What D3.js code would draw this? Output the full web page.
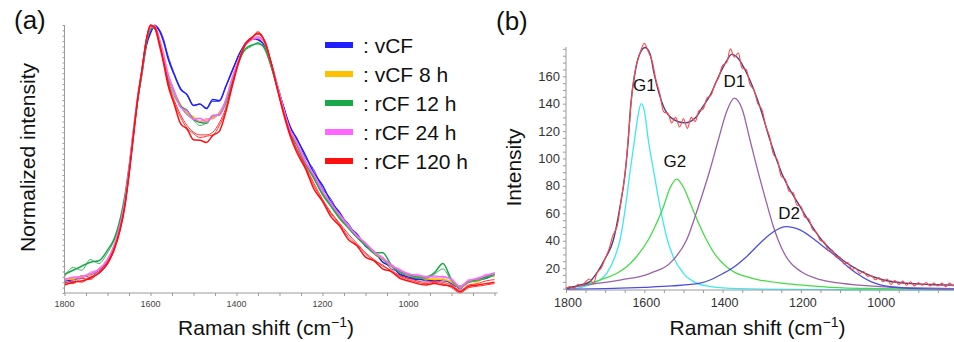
<!DOCTYPE html>
<html><head><meta charset="utf-8">
<script src="https://cdn.jsdelivr.net/npm/d3@7"></script>
<style>
body{margin:0;background:#fff;}
svg{display:block;font-family:Arial,"Liberation Sans",sans-serif;}
</style></head>
<body>
<svg id="c" width="954" height="342"></svg>
<script>
// ---------- Panel (a) data: normalized Raman spectra ----------
const shiftA = [1800,1780,1760,1740,1720,1700,1685,1670,1660,1650,1640,1630,1620,1610,1600,1590,1580,1570,1560,1545,1530,1515,1500,1485,1470,1455,1440,1425,1410,1395,1380,1365,1350,1335,1320,1305,1290,1275,1260,1240,1220,1200,1180,1160,1140,1120,1100,1080,1060,1040,1020,1000,980,960,940,920,900,880,860,840,820,800];

const vCF_a = [0.045,0.050,0.060,0.068,0.085,0.120,0.170,0.250,0.330,0.450,
 0.590,0.720,0.820,0.920,0.970,0.995,0.980,0.940,0.880,0.815,
 0.760,0.740,0.700,0.705,0.688,0.722,0.718,0.770,0.830,0.885,
 0.930,0.950,0.945,0.925,0.860,0.775,0.690,0.620,0.575,0.515,
 0.448,0.402,0.340,0.300,0.250,0.220,0.175,0.155,0.115,0.100,
 0.070,0.060,0.050,0.050,0.045,0.050,0.035,0.020,0.040,0.050,
 0.055,0.070];
const vCF_b = [0.055,0.040,0.065,0.058,0.090,0.118,0.175,0.255,0.335,0.455,
 0.595,0.725,0.825,0.925,0.975,1.000,0.985,0.950,0.890,0.820,
 0.765,0.740,0.700,0.705,0.690,0.715,0.715,0.770,0.825,0.890,
 0.925,0.945,0.950,0.915,0.865,0.770,0.695,0.615,0.580,0.505,
 0.460,0.390,0.350,0.290,0.260,0.210,0.185,0.145,0.125,0.090,
 0.080,0.055,0.055,0.045,0.050,0.045,0.040,0.015,0.045,0.045,
 0.060,0.075];
const vCF8_a = [0.048,0.055,0.060,0.070,0.088,0.125,0.175,0.260,0.340,0.460,
 0.600,0.730,0.830,0.940,0.990,0.995,0.950,0.890,0.820,0.750,
 0.700,0.670,0.655,0.640,0.645,0.655,0.670,0.715,0.800,0.870,
 0.925,0.945,0.955,0.935,0.860,0.770,0.680,0.605,0.560,0.490,
 0.435,0.375,0.330,0.285,0.245,0.210,0.180,0.150,0.125,0.100,
 0.080,0.068,0.058,0.055,0.050,0.052,0.040,0.020,0.040,0.045,
 0.060,0.065];
const vCF8_b = [0.055,0.050,0.065,0.065,0.092,0.122,0.180,0.265,0.345,0.465,
 0.605,0.735,0.835,0.935,0.985,0.990,0.955,0.895,0.825,0.755,
 0.705,0.665,0.660,0.635,0.650,0.650,0.675,0.720,0.795,0.875,
 0.920,0.950,0.950,0.930,0.855,0.775,0.685,0.600,0.565,0.485,
 0.440,0.370,0.335,0.280,0.250,0.205,0.185,0.145,0.130,0.095,
 0.085,0.063,0.062,0.050,0.055,0.048,0.045,0.025,0.045,0.040,
 0.065,0.060];
const rCF12_a = [0.070,0.085,0.100,0.115,0.120,0.160,0.200,0.280,0.360,0.470,
 0.600,0.720,0.820,0.930,0.985,0.990,0.945,0.880,0.810,0.750,
 0.698,0.682,0.648,0.637,0.633,0.662,0.664,0.716,0.790,0.860,
 0.910,0.925,0.930,0.915,0.850,0.765,0.675,0.600,0.555,0.485,
 0.430,0.370,0.325,0.280,0.245,0.210,0.180,0.150,0.150,0.105,
 0.080,0.070,0.060,0.060,0.075,0.110,0.050,0.025,0.045,0.050,
 0.060,0.070];
const rCF12_b = [0.060,0.095,0.085,0.125,0.110,0.150,0.195,0.270,0.350,0.465,
 0.595,0.725,0.825,0.935,0.990,0.985,0.940,0.875,0.800,0.735,
 0.695,0.665,0.645,0.625,0.635,0.660,0.665,0.705,0.785,0.865,
 0.905,0.920,0.935,0.910,0.845,0.760,0.670,0.595,0.550,0.480,
 0.425,0.365,0.320,0.275,0.240,0.205,0.175,0.145,0.125,0.100,
 0.075,0.065,0.055,0.055,0.070,0.090,0.045,0.020,0.040,0.045,
 0.055,0.065];
const rCF24_a = [0.052,0.058,0.062,0.072,0.088,0.125,0.175,0.260,0.340,0.460,
 0.600,0.730,0.830,0.940,0.990,0.995,0.950,0.890,0.820,0.755,
 0.692,0.678,0.648,0.652,0.638,0.662,0.663,0.720,0.800,0.870,
 0.925,0.945,0.955,0.935,0.860,0.770,0.680,0.605,0.560,0.490,
 0.440,0.380,0.335,0.290,0.250,0.215,0.185,0.155,0.130,0.105,
 0.085,0.072,0.065,0.062,0.060,0.062,0.050,0.025,0.045,0.055,
 0.065,0.075];
const rCF24_b = [0.045,0.060,0.055,0.078,0.085,0.128,0.172,0.255,0.338,0.455,
 0.598,0.728,0.828,0.945,0.995,0.990,0.945,0.885,0.815,0.745,
 0.695,0.665,0.650,0.640,0.650,0.650,0.675,0.720,0.805,0.865,
 0.930,0.950,0.950,0.940,0.865,0.775,0.685,0.600,0.565,0.495,
 0.445,0.385,0.330,0.295,0.255,0.210,0.190,0.150,0.135,0.100,
 0.090,0.068,0.070,0.058,0.065,0.058,0.055,0.020,0.050,0.050,
 0.070,0.070];
const rCF120_a = [0.030,0.040,0.045,0.055,0.075,0.110,0.160,0.240,0.320,0.440,
 0.580,0.720,0.830,0.940,1.000,0.990,0.930,0.860,0.780,0.705,
 0.632,0.612,0.572,0.570,0.562,0.588,0.603,0.675,0.770,0.860,
 0.925,0.950,0.970,0.940,0.860,0.760,0.665,0.585,0.525,0.465,
 0.388,0.342,0.284,0.250,0.200,0.176,0.134,0.120,0.090,0.080,
 0.055,0.045,0.035,0.030,0.035,0.030,0.025,0.005,0.025,0.030,
 0.035,0.040];
const rCF120_b = [0.040,0.035,0.055,0.050,0.080,0.115,0.165,0.248,0.328,0.448,
 0.588,0.725,0.835,0.945,1.000,0.985,0.935,0.865,0.790,0.710,
 0.655,0.615,0.595,0.580,0.585,0.590,0.625,0.680,0.775,0.865,
 0.930,0.955,0.965,0.945,0.865,0.765,0.675,0.595,0.540,0.475,
 0.410,0.350,0.300,0.260,0.220,0.185,0.150,0.125,0.100,0.085,
 0.065,0.055,0.045,0.040,0.045,0.040,0.030,0.010,0.030,0.035,
 0.045,0.050];
const rCF120_c = [0.035,0.045,0.040,0.060,0.072,0.108,0.158,0.238,0.318,0.438,
 0.578,0.718,0.828,0.938,0.995,0.995,0.940,0.870,0.795,0.720,
 0.665,0.625,0.600,0.590,0.590,0.600,0.635,0.690,0.780,0.862,
 0.928,0.952,0.975,0.942,0.862,0.762,0.670,0.590,0.535,0.470,
 0.400,0.345,0.295,0.255,0.210,0.180,0.145,0.120,0.105,0.080,
 0.062,0.050,0.040,0.035,0.040,0.035,0.020,0.000,0.020,0.025,
 0.030,0.035];

const seriesNames = ["vCF","vCF 8 h","rCF 12 h","rCF 24 h","rCF 120 h"];
const seriesColors = ["#1f1fff","#ffc000","#1aa84a","#ff66ff","#ff1010"];
const seriesRuns = [[vCF_a,vCF_b],[vCF8_a,vCF8_b],[rCF12_a,rCF12_b],[rCF24_a,rCF24_b],[rCF120_a,rCF120_b,rCF120_c]];
const ticksA = [1800,1600,1400,1200,1000];

// ---------- Panel (b) data: peak fitting ----------
const fitG1 = [[1800,4.5],[1760,6],[1730,9],[1710,12],[1696,16.2],[1675,28.3],[1662,40.5],[1648,64.8],[1637,89.2],[1625,113.5],[1615,133],[1608,140],[1600,135],[1590,114],[1575,89],[1560,65],[1541,40.5],[1526,28.3],[1500,16.2],[1466,9],[1430,6.5],[1400,5.5],[1300,4.6],[1100,4.2],[800,4]];
const fitG2 = [[1800,5.5],[1756,7.7],[1713,11.3],[1670,16.2],[1645,21],[1620,28.3],[1590,40.5],[1570,52],[1551,64.8],[1535,78],[1517,85],[1500,79],[1479,64.8],[1460,52],[1441,40.5],[1415,28.3],[1390,21],[1364,16.2],[1330,13],[1305,11.3],[1250,9],[1202,7.7],[1126,6],[1000,5],[900,4.7],[800,4.5]];
const fitD1 = [[1800,5],[1747,7.7],[1662,11.3],[1585,16.2],[1526,26],[1492,40.5],[1462,64.8],[1432,92],[1411,113.5],[1390,134],[1370,144],[1350,136],[1330,113.5],[1311,92],[1290,70],[1270,50],[1250,35],[1230,25],[1200,17.5],[1150,11.5],[1100,9],[1000,6.5],[900,5.5],[800,5]];
const fitD2 = [[1800,4.5],[1700,5],[1600,6],[1530,7],[1458,9],[1432,11.3],[1398,16.2],[1370,21],[1339,28.3],[1296,40.5],[1270,46.5],[1238,50.2],[1200,47.5],[1164,40.5],[1135,34],[1109,28.3],[1080,21],[1058,16.2],[1020,10],[972,6.4],[900,5],[800,4.5]];
const fitSum = [[1800,5],[1764,7.7],[1740,10],[1722,16.2],[1700,27],[1679,40.5],[1662,64.8],[1649,89.2],[1641,113.5],[1635,138],[1624,162],[1612,176],[1598,181],[1585,176],[1575,162],[1551,138],[1530,129.5],[1496,126],[1470,129.5],[1450,138],[1432,146],[1410,160],[1390,171],[1377,176],[1360,173],[1338,162],[1305,138],[1279,113.5],[1249,89.2],[1202,64.8],[1147,40.5],[1104,28.3],[1036,16.2],[989,11.3],[930,8.9],[870,8],[800,7.5]];
const shiftB = [1800,1790,1780,1770,1760,1750,1740,1730,1720,1710,1700,1690,1680,1670,1660,1650,1640,1630,1620,1610,1600,1590,1580,1570,1560,1550,1540,1530,1520,1510,1500,1490,1480,1470,1460,1450,1440,1430,1420,1410,1400,1390,1380,1370,1360,1350,1340,1330,1320,1310,1300,1290,1280,1270,1260,1250,1240,1230,1220,1210,1200,1190,1180,1170,1160,1150,1140,1130,1120,1110,1100,1090,1080,1070,1060,1050,1040,1030,1020,1010,1000,990,980,970,960,950,940,930,920,910,900,890,880,870,860,850,840,830,820,810,800];
const measured = [5,6.5,5,8,7,10,12,9,17,20,27,34,44,50,68,87,118,151,169,178,184,178,171,157,147,134,133,126,130,123,129,122,130,127,135,136,144,146,154,159,168,170,180,174,177,166,165,154,150,140,136,124,116,103,99,87,85,76,75,66,65,57,56,48,46,40,39,33,33,28,28,23,24,19,20,16,17.5,14,14.5,11.5,13,10,12,8,11,8,10.5,7.5,10,7,9.5,7.5,9.5,7,9,7,9,6.5,9,7,8];
const peakLabels = ["G1","G2","D1","D2"];
const peakLabelPos = [[1600,149],[1522,94],[1370,152],[1230,56]];
const peakColors = ["#3ee8f0","#44dd44","#9a62a8","#4d4de0"];
const ticksBx = [1800,1600,1400,1200,1000];
const ticksBy = [20,40,60,80,100,120,140,160];

// ---------- drawing ----------
const svg = d3.select("#c");
const axisCol = "#9a9a9a";

// Panel (a)
const xA = d3.scaleLinear().domain([1800,793]).range([64.5,497.5]);
const yA = d3.scaleLinear().domain([0,1]).range([293,25]);
const gA = svg.append("g");
const lineA = d3.line().x(d=>xA(d[0])).y(d=>yA(d[1])).curve(d3.curveMonotoneX);
seriesRuns.forEach((runs,i)=>{
  runs.forEach((vals,j)=>{
    gA.append("path").datum(shiftA.map((s,k)=>[s,vals[k]]))
      .attr("d",lineA).attr("fill","none")
      .attr("stroke",seriesColors[i]).attr("stroke-width", j===0?1.5:1.0)
      .attr("stroke-opacity", j===0?1:0.85);
  });
});
// axes (a)
const axAx = d3.axisBottom(xA).tickValues(d3.range(1800,790,-50)).tickSize(3).tickFormat("");
gA.append("g").attr("transform","translate(0,293)").call(axAx)
  .call(g=>{g.selectAll("line").attr("stroke",axisCol);g.select(".domain").attr("stroke",axisCol).attr("d","M64.5,0H497.5");});
gA.append("g").attr("transform","translate(0,293)")
  .selectAll("text").data(ticksA).join("text")
  .attr("x",d=>xA(d)).attr("y",14).attr("text-anchor","middle")
  .attr("font-size",9).attr("fill","#444").text(d=>d);
const ayAx = d3.axisLeft(yA).tickValues(d3.range(0,1.001,0.02)).tickSize(2).tickFormat("");
gA.append("g").attr("transform","translate(64.5,0)").call(ayAx)
  .call(g=>{g.selectAll("line").attr("stroke",axisCol);g.select(".domain").attr("stroke",axisCol).attr("d","M0,293V25");});
// legend
const lg = gA.append("g");
seriesNames.forEach((n,i)=>{
  const cy = 45 + i*29;
  lg.append("line").attr("x1",325).attr("x2",353).attr("y1",cy).attr("y2",cy)
    .attr("stroke",seriesColors[i]).attr("stroke-width",6);
  lg.append("text").attr("x",363).attr("y",cy+7.5).attr("font-size",21).attr("fill","#111").text(": "+n);
});
// titles (a)
const xTitle = (g,cx)=>{
  const t = g.append("text").attr("x",cx).attr("y",335).attr("text-anchor","middle").attr("font-size",21).attr("fill","#111");
  t.append("tspan").text("Raman shift (cm");
  t.append("tspan").attr("dy",-8).attr("font-size",14).text("\u22121");
  t.append("tspan").attr("dy",8).text(")");
};
xTitle(gA,266);
gA.append("text").attr("transform","translate(35,157.5) rotate(-90)").attr("text-anchor","middle")
  .attr("font-size",21).attr("fill","#111").text("Normalized intensity");
svg.append("text").attr("x",14).attr("y",29).attr("font-size",26).attr("fill","#111").text("(a)");

// Panel (b)
const xB = d3.scaleLinear().domain([1800,800]).range([566,957.5]);
const yB = d3.scaleLinear().domain([0,181]).range([295.5,47.5]);
const gB = svg.append("g");
const lineB = d3.line().x(d=>xB(d[0])).y(d=>yB(d[1])).curve(d3.curveMonotoneX);
[fitG1,fitG2,fitD1,fitD2].forEach((c,i)=>{
  gB.append("path").datum(c).attr("d",lineB).attr("fill","none")
    .attr("stroke",peakColors[i]).attr("stroke-width",1.3);
});
gB.append("path").datum(fitSum).attr("d",lineB).attr("fill","none").attr("stroke","#4a3f85").attr("stroke-width",1.4);
gB.append("path").datum(shiftB.map((s,k)=>[s,measured[k]])).attr("d",lineB.curve(d3.curveCatmullRom)).attr("fill","none")
  .attr("stroke","#ff4a4a").attr("stroke-width",1.1);
// axes (b)
const axBx = d3.axisBottom(xB).tickValues(d3.range(1800,800,-50)).tickSize(3).tickFormat("");
gB.append("g").attr("transform",`translate(0,${yB(4)})`).call(axBx)
  .call(g=>{g.selectAll("line").attr("stroke",axisCol);g.select(".domain").attr("stroke",axisCol).attr("d","M566,0H954");});
gB.append("g").selectAll("text").data(ticksBx).join("text")
  .attr("x",d=>xB(d)+2).attr("y",yB(4)+17).attr("text-anchor","middle")
  .attr("font-size",12.5).attr("fill","#333").text(d=>d);
const ayBx = d3.axisLeft(yB).tickValues(d3.range(5,181,5)).tickSize(3).tickFormat("");
gB.append("g").attr("transform","translate(566,0)").call(ayBx)
  .call(g=>{g.selectAll("line").attr("stroke",axisCol);g.select(".domain").attr("stroke",axisCol).attr("d",`M0,${yB(4)}V47`);});
gB.append("g").selectAll("text").data(ticksBy).join("text")
  .attr("x",560).attr("y",d=>yB(d)+4.5).attr("text-anchor","end")
  .attr("font-size",13).attr("fill","#333").text(d=>d);
// peak labels
peakLabels.forEach((l,i)=>{
  gB.append("text").attr("x",xB(peakLabelPos[i][0])).attr("y",yB(peakLabelPos[i][1])).attr("text-anchor","middle")
    .attr("font-size",17).attr("fill","#111").text(l);
});
xTitle(gB,757.5);
gB.append("text").attr("transform","translate(521,167.5) rotate(-90)").attr("text-anchor","middle")
  .attr("font-size",21).attr("fill","#111").text("Intensity");
svg.append("text").attr("x",496).attr("y",30).attr("font-size",26).attr("fill","#111").text("(b)");
</script>
</body></html>
